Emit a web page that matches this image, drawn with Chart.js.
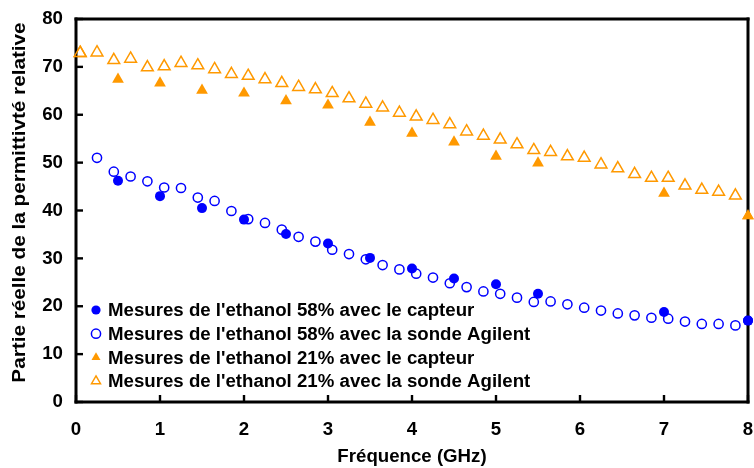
<!DOCTYPE html>
<html><head><meta charset="utf-8">
<script src="https://cdn.jsdelivr.net/npm/chart.js@4/dist/chart.umd.min.js"></script>
<style>html,body{margin:0;padding:0;background:#fff}#wrap{width:754px;height:468px}</style>
</head><body><div id="wrap"><canvas id="c" width="754" height="468"></canvas></div>
<script>
const freqCapteur = [0.5, 1, 1.5, 2, 2.5, 3, 3.5, 4, 4.5, 5, 5.5, 7, 8];
const eth58Capteur = [46.2, 43.0, 40.5, 38.1, 35.1, 33.1, 30.1, 27.9, 25.8, 24.6, 22.6, 18.8, 17.0];
const eth21Capteur = [67.4, 66.6, 65.1, 64.5, 62.9, 62.0, 58.4, 56.1, 54.3, 51.3, 49.9, 43.6, 38.9];

const freqAgilent58 = [0.25, 0.45, 0.65, 0.85, 1.05, 1.25, 1.45, 1.65, 1.85, 2.05, 2.25, 2.45, 2.65, 2.85, 3.05, 3.25, 3.45, 3.65, 3.85, 4.05, 4.25, 4.45, 4.65, 4.85, 5.05, 5.25, 5.45, 5.65, 5.85, 6.05, 6.25, 6.45, 6.65, 6.85, 7.05, 7.25, 7.45, 7.65, 7.85];
const eth58Agilent = [51.0, 48.1, 47.1, 46.1, 44.8, 44.7, 42.7, 42.0, 39.9, 38.2, 37.4, 36.0, 34.5, 33.5, 31.8, 30.9, 29.8, 28.6, 27.7, 26.8, 26.0, 24.8, 24.0, 23.1, 22.6, 21.8, 20.9, 21.0, 20.4, 19.7, 19.1, 18.5, 18.1, 17.6, 17.4, 16.8, 16.3, 16.3, 16.0];

const freqAgilent21 = [0.05, 0.25, 0.45, 0.65, 0.85, 1.05, 1.25, 1.45, 1.65, 1.85, 2.05, 2.25, 2.45, 2.65, 2.85, 3.05, 3.25, 3.45, 3.65, 3.85, 4.05, 4.25, 4.45, 4.65, 4.85, 5.05, 5.25, 5.45, 5.65, 5.85, 6.05, 6.25, 6.45, 6.65, 6.85, 7.05, 7.25, 7.45, 7.65, 7.85];
const eth21Agilent = [72.9, 73.0, 71.4, 71.7, 69.9, 70.1, 70.8, 70.3, 69.5, 68.5, 68.1, 67.4, 66.6, 65.8, 65.3, 64.5, 63.4, 62.3, 61.5, 60.4, 59.6, 58.9, 58.0, 56.5, 55.6, 54.8, 53.8, 52.6, 52.2, 51.3, 51.0, 49.6, 48.8, 47.6, 46.8, 46.8, 45.2, 44.3, 43.9, 43.1];

const seriesLabels = [
  "Mesures de l'ethanol 58% avec le capteur",
  "Mesures de l'ethanol 58% avec la sonde Agilent",
  "Mesures de l'ethanol 21% avec le capteur",
  "Mesures de l'ethanol 21% avec la sonde Agilent"
];
const xTitle = 'Fréquence (GHz)';
const yTitle = 'Partie réelle de la permittivté relative';

const BLUE = '#0000FF';
const ORANGE = '#FF9900';
const FONT = '"Liberation Sans", Arial, sans-serif';

function pts(xs, ys) { return xs.map((x, i) => ({ x: x, y: ys[i] })); }

function drawFrame(chart) {
  const ctx = chart.ctx;
  const ca = chart.chartArea;
  const xs = chart.scales.x, ys = chart.scales.y;
  const L = Math.round(ca.left), T = Math.round(ca.top), R = Math.round(ca.right), B = Math.round(ca.bottom);
  ctx.save();
  ctx.globalAlpha = 1;
  ctx.globalCompositeOperation = 'source-over';
  ctx.fillStyle = '#000000';
  // frame (4 bars, 3px thick, centred on the plot-area edges)
  ctx.fillRect(L - 1.5, T - 1.5, R - L + 3, 3);
  ctx.fillRect(L - 1.5, B - 1.5, R - L + 3, 3);
  ctx.fillRect(L - 1.5, T - 1.5, 3, B - T + 3);
  ctx.fillRect(R - 1.5, T - 1.5, 3, B - T + 3);
  // inward tick marks
  ys.ticks.forEach(t => { const py = ys.getPixelForValue(t.value); ctx.fillRect(L, py - 1.2, 7, 2.4); });
  xs.ticks.forEach(t => { const px = xs.getPixelForValue(t.value); ctx.fillRect(px - 1.2, B - 7, 2.4, 7); });
  ctx.restore();
}

function drawYTitle(chart) {
  const ctx = chart.ctx;
  const ca = chart.chartArea;
  ctx.save();
  ctx.translate(20, (ca.top + ca.bottom) / 2 - 8);
  ctx.rotate(-Math.PI / 2);
  ctx.scale(1.11, 1);
  ctx.fillStyle = '#000';
  ctx.font = 'bold 18.67px ' + FONT;
  ctx.textAlign = 'center';
  ctx.textBaseline = 'middle';
  ctx.fillText(yTitle, 0, 0);
  ctx.restore();
}

const decorPlugin = {
  id: 'decorPlugin',
  afterDraw(chart) {
    const ctx = chart.ctx;
    const ca = chart.chartArea;
    drawFrame(chart);
    drawYTitle(chart);
    // keep edge markers above the frame
    for (let i = chart.data.datasets.length - 1; i >= 0; i--) {
      chart.getDatasetMeta(i).data.forEach(el => {
        if (el.x > ca.right - 10 || el.x < ca.left + 10 || el.y < ca.top + 10 || el.y > ca.bottom - 10) el.draw(ctx, ca);
      });
    }
    ctx.save();
    chart.data.datasets.forEach((ds, i) => {
      const cx = ca.left + 20;
      const cy = ca.bottom - 92 + i * 23.7;
      ctx.fillStyle = ds.backgroundColor;
      ctx.strokeStyle = ds.borderColor;
      ctx.lineWidth = ds.borderWidth;
      Chart.helpers.drawPoint(ctx, {
        pointStyle: ds.pointStyle,
        radius: ds.pointStyle === 'circle' ? 4.6 : 5.2,
        rotation: 0,
        borderWidth: ds.borderWidth
      }, cx, cy);
      ctx.fillStyle = '#000';
      ctx.font = 'bold 18.67px ' + FONT;
      ctx.textBaseline = 'middle';
      ctx.textAlign = 'left';
      ctx.fillText(ds.label, cx + 12, cy + 1);
    });
    ctx.restore();
  }
};

new Chart(document.getElementById('c'), {
  type: 'scatter',
  data: {
    datasets: [
      { label: seriesLabels[0], data: pts(freqCapteur, eth58Capteur), pointStyle: 'circle', pointRadius: 5, backgroundColor: BLUE, borderColor: BLUE, borderWidth: 0, clip: false },
      { label: seriesLabels[1], data: pts(freqAgilent58, eth58Agilent), pointStyle: 'circle', pointRadius: 4.6, backgroundColor: 'rgba(255,255,255,0)', borderColor: BLUE, borderWidth: 1.5, clip: false },
      { label: seriesLabels[2], data: pts(freqCapteur, eth21Capteur), pointStyle: 'triangle', pointRadius: 6.8, backgroundColor: ORANGE, borderColor: ORANGE, borderWidth: 0, clip: false },
      { label: seriesLabels[3], data: pts(freqAgilent21, eth21Agilent), pointStyle: 'triangle', pointRadius: 6.8, backgroundColor: 'rgba(255,255,255,0)', borderColor: ORANGE, borderWidth: 1.5, clip: false }
    ]
  },
  options: {
    responsive: false,
    animation: false,
    devicePixelRatio: 1,
    layout: { autoPadding: false, padding: { top: 19, right: 6, left: 0, bottom: 0 } },
    plugins: { legend: { display: false }, tooltip: { enabled: false } },
    scales: {
      x: {
        type: 'linear', min: 0, max: 8,
        ticks: { stepSize: 1, padding: 17, color: '#000', font: { family: FONT, size: 18.67, weight: 'bold' } },
        grid: { display: false, drawTicks: false },
        border: { display: false },
        title: { display: true, text: xTitle, color: '#000', font: { family: FONT, size: 18.67, weight: 'bold' }, padding: { top: 0, bottom: 0 } },
        afterFit(s) { s.height = 66; s.paddingLeft = 0; s.paddingRight = 0; }
      },
      y: {
        type: 'linear', min: 0, max: 80,
        ticks: { stepSize: 10, padding: 13, color: '#000', font: { family: FONT, size: 18.67, weight: 'bold' } },
        grid: { display: false, drawTicks: false },
        border: { display: false },
        title: { display: false, text: yTitle },
        afterFit(s) { s.width = 76; s.paddingTop = 0; s.paddingBottom = 0; }
      }
    }
  },
  plugins: [decorPlugin]
});
</script>
</body></html>
